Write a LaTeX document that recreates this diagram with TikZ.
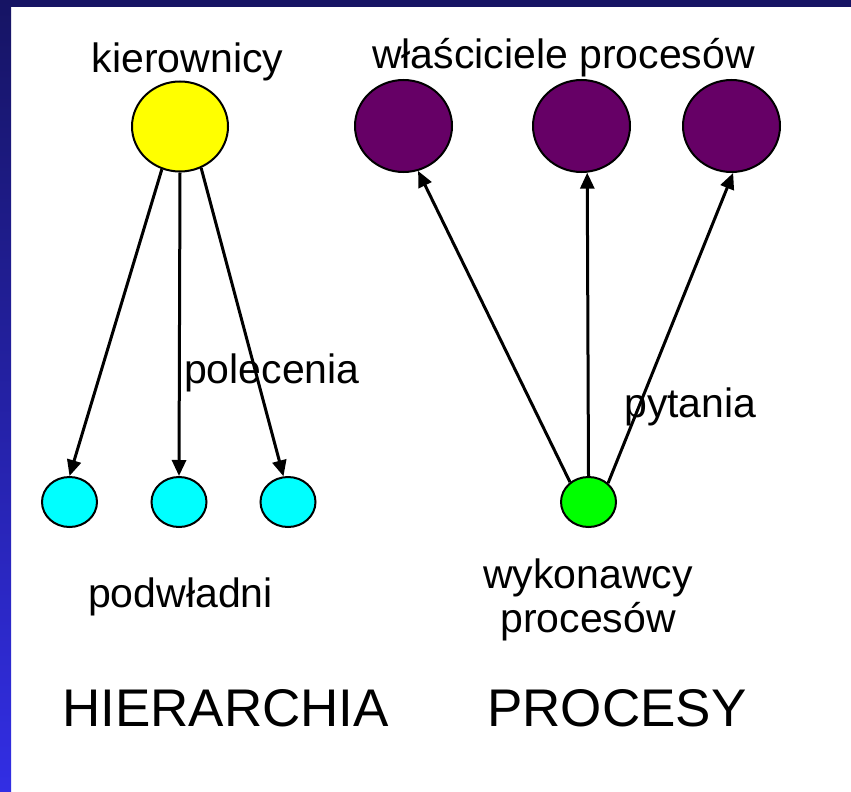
\documentclass[tikz,border=0pt]{standalone}
\usepackage{fontspec}
\setmainfont{Liberation Sans}
\usetikzlibrary{shapes.geometric,arrows.meta}
\definecolor{navy}{RGB}{22,20,100}
\definecolor{brightblue}{RGB}{50,46,228}
\definecolor{plum}{RGB}{102,0,102}
\definecolor{aqua}{RGB}{0,255,255}
\definecolor{lemon}{RGB}{255,255,0}
\definecolor{lime}{RGB}{0,255,0}
\tikzset{
  lbl/.style={anchor=base, inner sep=0pt, font=\fontsize{41}{44}\selectfont},
  big/.style={anchor=base, inner sep=0pt, font=\fontsize{53}{58}\selectfont},
  bigball/.style={ellipse, draw=black, line width=2pt, inner sep=0pt, minimum width=96pt, minimum height=90pt},
  smallball/.style={ellipse, draw=black, line width=2pt, inner sep=0pt, minimum width=55pt, minimum height=50pt},
  conn/.style={line width=3pt, -{Triangle[length=16pt,width=14pt]}}
}
\begin{document}
\begin{tikzpicture}[x=1pt,y=-1pt]
\useasboundingbox (0,0) rectangle (851,792);
\fill[white] (0,0) rectangle (851,792);
\fill[navy] (0,0) rectangle (851,7);
\shade[top color=navy, bottom color=brightblue] (0,0) rectangle (11,792);

% nodes
\node[bigball, fill=lemon] (y) at (180,126.5) {};
\node[bigball, fill=plum, minimum height=92pt, minimum width=97pt] (p1) at (403.5,126) {};
\node[bigball, fill=plum, minimum height=92pt, minimum width=97pt] (p2) at (581.5,126) {};
\node[bigball, fill=plum, minimum height=92pt, minimum width=97pt] (p3) at (731.5,126) {};
\node[smallball, fill=aqua] (c1) at (69.5,502) {};
\node[smallball, fill=aqua] (c2) at (179,502) {};
\node[smallball, fill=aqua] (c3) at (288,502) {};
\node[smallball, fill=lime] (g) at (588.5,502) {};

% labels
\node[lbl] (tk) at (187.5,72) {kierownicy};
\node[lbl] (tw) at (563.5,68) {właściciele procesów};
\node[lbl, anchor=base west] (tp) at (184,383) {polecenia};
\node[lbl, anchor=base west] (tq) at (624,417) {pytania};
\node[lbl] (td) at (180.5,607) {podwładni};
\node[lbl] (tx) at (588,588) {wykonawcy};
\node[lbl] (ty) at (588,632) {procesów};
\node[big, anchor=base west] (th) at (62,726) {HIERARCHIA};
\node[big, anchor=base west] (tr) at (487,726) {PROCESY};

% connectors
\draw[conn] (y.247) -- (c1.north);
\draw[conn] (y.south) -- (c2.north);
\draw[conn] (y.297) -- (c3.100);
\draw[conn] (g.133) -- (p1.288);
\draw[conn] (g.north) -- (p2.277);
\draw[conn] (g.44) -- (p3.272);
\end{tikzpicture}
\end{document}
